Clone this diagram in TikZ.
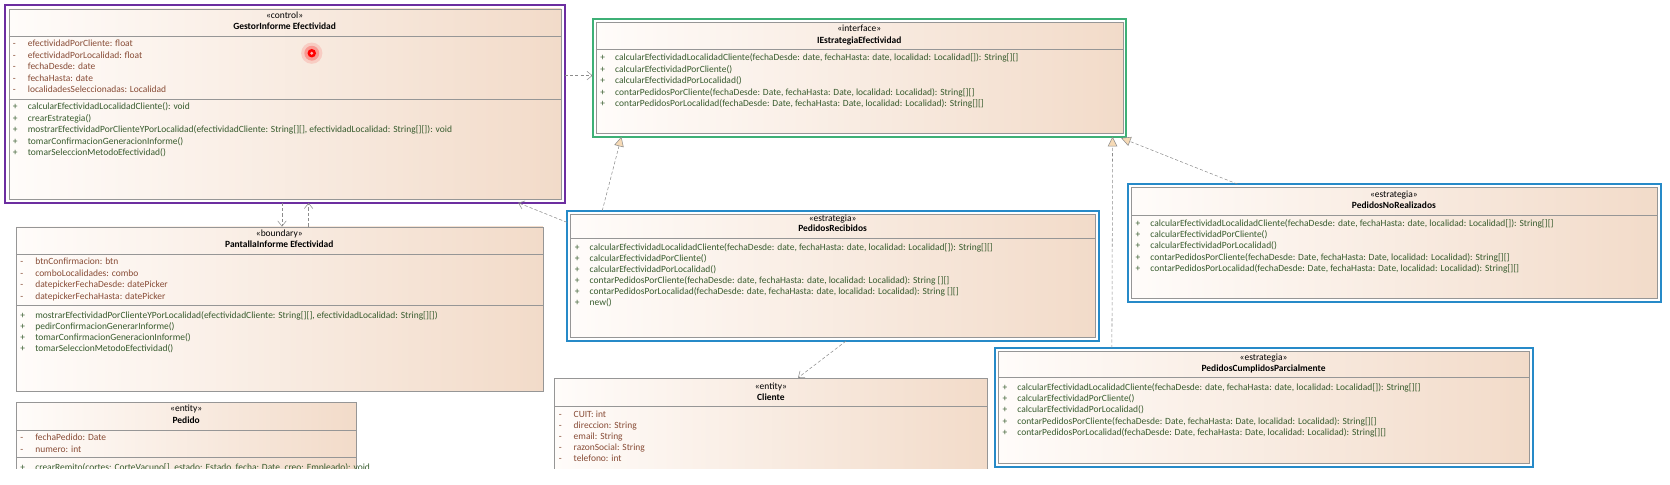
\documentclass[tikz,border=0pt]{standalone}
\usepackage{fontspec}
\setmainfont{Carlito}
\usetikzlibrary{arrows.meta,calc}

\definecolor{boxleft}{RGB}{255,252,250}
\definecolor{boxright}{RGB}{242,219,201}
\definecolor{boxline}{RGB}{150,150,150}
\definecolor{attrcol}{RGB}{136,76,54}
\definecolor{opercol}{RGB}{56,92,46}
\definecolor{hlpurple}{RGB}{108,46,160}
\definecolor{hlgreen}{RGB}{62,176,118}
\definecolor{hlblue}{RGB}{38,138,200}
\definecolor{linkcol}{RGB}{140,140,140}
\definecolor{headfill}{RGB}{246,218,182}

\tikzset{
  classbox/.style={draw=boxline, line width=0.6pt, left color=boxleft, right color=boxright,
    anchor=north west, inner sep=0pt},
  hlframe/.style={draw=#1, line width=1.8pt},
  stereo/.style={font=\fontsize{8.9}{10}\selectfont, inner sep=0pt, text height=6pt, text depth=2pt},
  cname/.style={stereo, font=\fontsize{8.9}{10}\selectfont\bfseries},
  attr/.style={anchor=west, font=\fontsize{8.9}{10}\selectfont, text=attrcol, inner sep=0pt,
    text height=6pt, text depth=2pt},
  oper/.style={attr, text=opercol},
  sepline/.style={draw=boxline, line width=0.5pt},
  dep/.style={draw=linkcol, line width=0.5pt, dash pattern=on 3pt off 2pt,
    -{Straight Barb[length=5pt,width=8pt]}},
  real/.style={draw=linkcol, line width=0.5pt, dash pattern=on 3pt off 2pt,
    -{Triangle[length=9pt,width=9pt,fill=headfill]}}
}
\newcommand{\mk}[1]{\makebox[14pt][l]{#1}}

\begin{document}
\begin{tikzpicture}[x=1pt,y=-1pt]
  \useasboundingbox (0,0) rectangle (1569.5,455.8);
  \begin{scope}
  \clip (0,0) rectangle (1569.5,440);

  % control
  \node[classbox, minimum width=519pt, minimum height=179pt] (gestor) at (8,8) {};
  \draw[hlframe=hlpurple] ($(gestor.north west)+(-3,-3)$) rectangle ($(gestor.south east)+(3,3)$);
  \node[stereo] (gestor-st) at (267.5,15) {«control»};
  \node[cname] (gestor-nm) at (267.5,26) {GestorInforme Efectividad};
  \draw[sepline] (8,34) -- (527,34);
  \draw[sepline] (8,93) -- (527,93);
  \foreach \lbl [count=\i] in {{efectividadPorCliente: float},{efectividadPorLocalidad: float},
      {fechaDesde: date},{fechaHasta: date},{localidadesSeleccionadas: Localidad}}
    \node[attr] (gestor-a\i) at (12,{42+10.8*(\i-1)}) {\mk{-}\lbl};
  \foreach \lbl [count=\i] in {{calcularEfectividadLocalidadCliente(): void},{crearEstrategia()},
      {mostrarEfectividadPorClienteYPorLocalidad(efectividadCliente: String[][], efectividadLocalidad: String[][]): void},
      {tomarConfirmacionGeneracionInforme()},{tomarSeleccionMetodoEfectividad()}}
    \node[oper] (gestor-o\i) at (12,{101+10.8*(\i-1)}) {\mk{+}\lbl};
  \fill[red, opacity=0.12] (293,50) circle (10);
  \fill[red, opacity=0.25] (293,50) circle (7);
  \fill[red] (293,50) circle (4);
  \fill[red!30] (293,50) circle (1.5);

  % interface
  \node[classbox, minimum width=495pt, minimum height=104pt] (iestrategia) at (560,21) {};
  \draw[hlframe=hlgreen] ($(iestrategia.north west)+(-3,-3)$) rectangle ($(iestrategia.south east)+(3,3)$);
  \node[stereo] (iestrategia-st) at (807.5,28) {«interface»};
  \node[cname] (iestrategia-nm) at (807.5,39) {IEstrategiaEfectividad};
  \draw[sepline] (560,46) -- (1055,46);
  \foreach \lbl [count=\i] in {{calcularEfectividadLocalidadCliente(fechaDesde: date, fechaHasta: date, localidad: Localidad[]): String[][]},
      {calcularEfectividadPorCliente()},{calcularEfectividadPorLocalidad()},
      {contarPedidosPorCliente(fechaDesde: Date, fechaHasta: Date, localidad: Localidad): String[][]},
      {contarPedidosPorLocalidad(fechaDesde: Date, fechaHasta: Date, localidad: Localidad): String[][]}}
    \node[oper] (iestrategia-o\i) at (564,{55+10.8*(\i-1)}) {\mk{+}\lbl};

  % estrategias
  \node[classbox, minimum width=493pt, minimum height=116pt] (precibidos) at (536,201) {};
  \draw[hlframe=hlblue] ($(precibidos.north west)+(-3,-3)$) rectangle ($(precibidos.south east)+(3,3)$);
  \node[stereo] (precibidos-st) at (782.5,206) {«estrategia»};
  \node[cname] (precibidos-nm) at (782.5,216) {PedidosRecibidos};
  \draw[sepline] (536,224) -- (1029,224);
  \foreach \lbl [count=\i] in {{calcularEfectividadLocalidadCliente(fechaDesde: date, fechaHasta: date, localidad: Localidad[]): String[][]},
      {calcularEfectividadPorCliente()},{calcularEfectividadPorLocalidad()},
      {contarPedidosPorCliente(fechaDesde: date, fechaHasta: date, localidad: Localidad): String [][]},
      {contarPedidosPorLocalidad(fechaDesde: date, fechaHasta: date, localidad: Localidad): String [][]},{new()}}
    \node[oper] (precibidos-o\i) at (540,{233+10.4*(\i-1)}) {\mk{+}\lbl};

  \node[classbox, minimum width=494pt, minimum height=104pt] (pnorealizados) at (1063,176) {};
  \draw[hlframe=hlblue] ($(pnorealizados.north west)+(-3,-3)$) rectangle ($(pnorealizados.south east)+(3,3)$);
  \node[stereo] (pnorealizados-st) at (1310,184) {«estrategia»};
  \node[cname] (pnorealizados-nm) at (1310,194) {PedidosNoRealizados};
  \draw[sepline] (1063,202) -- (1557,202);
  \foreach \lbl [count=\i] in {{calcularEfectividadLocalidadCliente(fechaDesde: date, fechaHasta: date, localidad: Localidad[]): String[][]},
      {calcularEfectividadPorCliente()},{calcularEfectividadPorLocalidad()},
      {contarPedidosPorCliente(fechaDesde: Date, fechaHasta: Date, localidad: Localidad): String[][]},
      {contarPedidosPorLocalidad(fechaDesde: Date, fechaHasta: Date, localidad: Localidad): String[][]}}
    \node[oper] (pnorealizados-o\i) at (1067,{211+10.5*(\i-1)}) {\mk{+}\lbl};

  \node[classbox, minimum width=499pt, minimum height=105pt] (pcumplidos) at (938,330) {};
  \draw[hlframe=hlblue] ($(pcumplidos.north west)+(-3,-3)$) rectangle ($(pcumplidos.south east)+(3,3)$);
  \node[stereo] (pcumplidos-st) at (1187.5,337) {«estrategia»};
  \node[cname] (pcumplidos-nm) at (1187.5,347) {PedidosCumplidosParcialmente};
  \draw[sepline] (938,355) -- (1437,355);
  \foreach \lbl [count=\i] in {{calcularEfectividadLocalidadCliente(fechaDesde: date, fechaHasta: date, localidad: Localidad[]): String[][]},
      {calcularEfectividadPorCliente()},{calcularEfectividadPorLocalidad()},
      {contarPedidosPorCliente(fechaDesde: Date, fechaHasta: Date, localidad: Localidad): String[][]},
      {contarPedidosPorLocalidad(fechaDesde: Date, fechaHasta: Date, localidad: Localidad): String[][]}}
    \node[oper] (pcumplidos-o\i) at (942,{365+10.5*(\i-1)}) {\mk{+}\lbl};

  % boundary
  \node[classbox, minimum width=495pt, minimum height=154pt] (pantalla) at (15,213) {};
  \node[stereo] (pantalla-st) at (262.5,220) {«boundary»};
  \node[cname] (pantalla-nm) at (262.5,231) {PantallaInforme Efectividad};
  \draw[sepline] (15,239) -- (510,239);
  \draw[sepline] (15,287) -- (510,287);
  \foreach \lbl [count=\i] in {{btnConfirmacion: btn},{comboLocalidades: combo},
      {datepickerFechaDesde: datePicker},{datepickerFechaHasta: datePicker}}
    \node[attr] (pantalla-a\i) at (19,{247+10.8*(\i-1)}) {\mk{-}\lbl};
  \foreach \lbl [count=\i] in {{mostrarEfectividadPorClienteYPorLocalidad(efectividadCliente: String[][], efectividadLocalidad: String[][])},
      {pedirConfirmacionGenerarInforme()},{tomarConfirmacionGeneracionInforme()},{tomarSeleccionMetodoEfectividad()}}
    \node[oper] (pantalla-o\i) at (19,{297+10.5*(\i-1)}) {\mk{+}\lbl};

  % entities
  \node[classbox, minimum width=320pt, minimum height=90pt] (pedido) at (15,378) {};
  \node[stereo] (pedido-st) at (175,385) {«entity»};
  \node[cname] (pedido-nm) at (175,396) {Pedido};
  \draw[sepline] (15,404) -- (335,404);
  \draw[sepline] (15,430) -- (335,430);
  \node[attr] (pedido-a1) at (19,412) {\mk{-}fechaPedido: Date};
  \node[attr] (pedido-a2) at (19,423) {\mk{-}numero: int};
  \node[oper] (pedido-o1) at (19,440.5) {\mk{+}crearRemito(cortes: CorteVacuno[], estado: Estado, fecha: Date, creo: Empleado): void};

  \node[classbox, minimum width=407pt, minimum height=110pt] (cliente) at (521,355) {};
  \node[stereo] (cliente-st) at (724.5,364) {«entity»};
  \node[cname] (cliente-nm) at (724.5,374) {Cliente};
  \draw[sepline] (521,382) -- (928,382);
  \foreach \lbl [count=\i] in {{CUIT: int},{direccion: String},{email: String},{razonSocial: String},{telefono: int}}
    \node[attr] (cliente-a\i) at (525,{390+10.5*(\i-1)}) {\mk{-}\lbl};

  % relaciones
  \draw[dep] ($(gestor.north east)+(3,63)$) -- ($(iestrategia.north west)+(-3,50)$);
  \draw[dep] ($(gestor.south west)+(257,3)$) -- ($(pantalla.north west)+(250,0)$);
  \draw[dep] ($(pantalla.north west)+(275,0)$) -- ($(gestor.south west)+(282,3)$);
  \draw[dep] ($(precibidos.north west)+(-3,8)$) -- ($(gestor.south west)+(479,3)$);
  \draw[dep] ($(precibidos.south west)+(259,3)$) -- ($(cliente.north west)+(229,0)$);
  \draw[real] ($(precibidos.north west)+(30,-3)$) -- ($(iestrategia.south west)+(24,3)$);
  \draw[real] ($(pnorealizados.north west)+(100,-3)$) -- ($(iestrategia.south east)+(-2,4)$);
  \draw[real] ($(pcumplidos.north west)+(107,-3)$) -- ($(iestrategia.south east)+(-10,3)$);
  \end{scope}
\end{tikzpicture}
\end{document}
